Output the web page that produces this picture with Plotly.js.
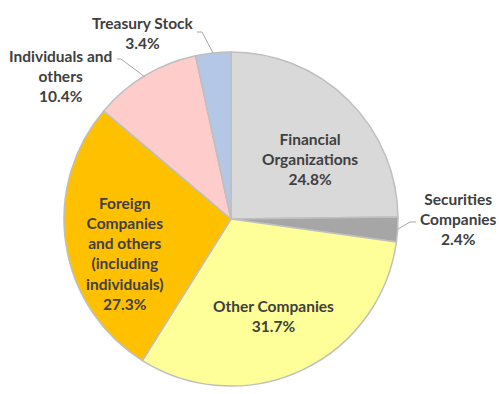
<!DOCTYPE html>
<html>
<head>
<meta charset="utf-8">
<script src="https://cdn.plot.ly/plotly-3.0.1.min.js"></script>
<style>html,body{margin:0;padding:0;background:#fff;}#chart{width:499px;height:394px;}</style>
</head>
<body>
<div id="chart"></div>
<script>
// Data
const categories = ["Financial Organizations", "Securities Companies", "Other Companies",
  "Foreign Companies and others (including individuals)", "Individuals and others", "Treasury Stock"];
const shares = [24.8, 2.4, 31.7, 27.3, 10.4, 3.4];
const labelLines = [
  ["Financial", "Organizations"],
  ["Securities", "Companies"],
  ["Other Companies"],
  ["Foreign", "Companies", "and others", "(including", "individuals)"],
  ["Individuals and", "others"],
  ["Treasury Stock"]
];

// Styles / layout
const colors = ["#d9d9d9", "#a6a6a6", "#ffff99", "#ffc000", "#ffcccc", "#b4c7e7"];
const W = 499, H = 394;
const cx = 231, cy = 219, R = 167;
// label block centres (pixels)
const labelPos = [[310, 159], [458, 219], [273, 316], [125, 253], [60, 76], [143, 33]];
// leader lines (pixels) for outside labels
const leaders = [null, [[416,222],[410,222],[398,229]], null, null,
  [[117,59],[121,59],[145,77]], [[197,32],[202,32],[213,53]]];

const px = x => x / W, py = y => 1 - y / H;
const font = {family: "Lato, 'Open Sans', sans-serif", size: 15.5, color: "#404040", weight: "bold"};

const annotations = categories.map((c, i) => ({
  xref: "paper", yref: "paper",
  x: px(labelPos[i][0]), y: py(labelPos[i][1]),
  xanchor: "center", yanchor: "middle",
  text: labelLines[i].concat([shares[i].toFixed(1) + "%"]).join("<br>"),
  showarrow: false, font: font, align: "center"
}));

const shapes = leaders.filter(l => l).map(l => ({
  type: "path", xref: "paper", yref: "paper",
  path: "M" + l.map(p => px(p[0]) + "," + py(p[1])).join(" L"),
  line: {color: "#a6a6a6", width: 1}
}));

const trace = {
  type: "pie",
  labels: categories,
  values: shares,
  sort: false,
  direction: "clockwise",
  rotation: 0,
  textinfo: "none",
  hoverinfo: "none",
  marker: {colors: colors, line: {color: "#bfbfbf", width: 1.5}},
  domain: {x: [(cx - R) / W, (cx + R) / W], y: [(H - cy - R) / H, (H - cy + R) / H]},
  showlegend: false
};

const layout = {
  width: W, height: H,
  margin: {l: 0, r: 0, t: 0, b: 0},
  paper_bgcolor: "#ffffff",
  annotations: annotations,
  shapes: shapes,
  showlegend: false
};

Plotly.newPlot("chart", [trace], layout, {displayModeBar: false, staticPlot: true});
</script>
</body>
</html>
